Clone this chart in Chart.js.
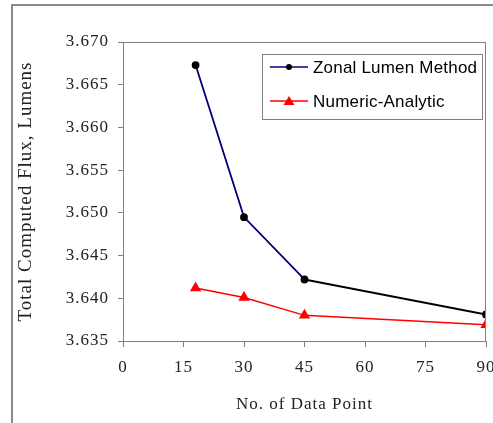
<!DOCTYPE html>
<html><head><meta charset="utf-8">
<script src="https://cdn.jsdelivr.net/npm/chart.js@4"></script>
<style>
html,body{margin:0;padding:0;background:#fff;}
#wrap{position:relative;width:493px;height:423px;}
</style></head>
<body><div id="wrap"><canvas id="c" width="493" height="423"></canvas></div>
<script>
const dataPoints = [18, 30, 45, 90];
const zonalLumen = [3.6673, 3.6495, 3.6422, 3.6381];
const numericAnalytic = [3.6412, 3.6401, 3.6380, 3.6369];
const xTicks = [0, 15, 30, 45, 60, 75, 90];
const yTicks = [3.635, 3.640, 3.645, 3.650, 3.655, 3.660, 3.665, 3.670];
const seriesNames = ['Zonal Lumen Method', 'Numeric-Analytic'];

const serif = '"Liberation Serif", "Times New Roman", serif';
const sans = '"Liberation Sans", Arial, sans-serif';
const gray = '#808080';

const framePlugin = {
  id: 'frame',
  beforeDraw(chart) {
    const c = chart.ctx;
    c.fillStyle = '#fff';
    c.fillRect(0, 0, chart.width, chart.height);
    c.save();
    c.strokeStyle = '#8a8a8a';
    c.lineWidth = 2;
    c.beginPath();
    c.moveTo(12, chart.height);
    c.lineTo(12, 5);
    c.lineTo(chart.width, 5);
    c.stroke();
    c.restore();
    if ('letterSpacing' in c) c.letterSpacing = '1px';
  },
  beforeDatasetsDraw(chart) {
    const c = chart.ctx;
    if ('letterSpacing' in c) c.letterSpacing = '0px';
  },
  afterDraw(chart) {
    const c = chart.ctx, a = chart.chartArea;
    c.save();
    if ('letterSpacing' in c) c.letterSpacing = '0.2px';
    c.strokeStyle = gray;
    c.lineWidth = 1;
    c.strokeRect(a.left + 0.5, a.top + 0.5, a.right - a.left - 1, a.bottom - a.top);
    // legend box
    const bx = 262.5, by = 54.5, bw = 220, bh = 65;
    c.fillStyle = '#fff';
    c.fillRect(bx, by, bw, bh);
    c.strokeRect(bx, by, bw, bh);
    const rows = [67, 101];
    chart.data.datasets.forEach((ds, i) => {
      const y = rows[i];
      c.strokeStyle = ds.borderColor;
      c.lineWidth = 1.5;
      c.beginPath(); c.moveTo(270, y); c.lineTo(308, y); c.stroke();
      c.fillStyle = ds.pointBackgroundColor;
      if (ds.pointStyle === 'triangle') {
        c.beginPath(); c.moveTo(289, y - 5); c.lineTo(294.5, y + 4); c.lineTo(283.5, y + 4); c.closePath(); c.fill();
      } else {
        c.beginPath(); c.arc(289, y, 3, 0, Math.PI * 2); c.fill();
      }
      c.fillStyle = '#000';
      c.font = '17px ' + sans;
      c.textBaseline = 'middle';
      c.textAlign = 'left';
      c.fillText(ds.label, 313, y + 1);
    });
    c.restore();
  }
};

new Chart(document.getElementById('c'), {
  type: 'line',
  data: {
    datasets: [
      {
        label: seriesNames[0],
        data: dataPoints.map((x, i) => ({x, y: zonalLumen[i]})),
        borderColor: '#000080',
        borderWidth: 1.8,
        pointStyle: 'circle',
        pointRadius: 3,
        pointBackgroundColor: '#000',
        pointBorderColor: '#000',
        segment: { borderColor: ctx => ctx.p0DataIndex >= 2 ? '#000' : '#000080' },
        tension: 0
      },
      {
        label: seriesNames[1],
        data: dataPoints.map((x, i) => ({x, y: numericAnalytic[i]})),
        borderColor: '#ff0000',
        borderWidth: 1.5,
        pointStyle: 'triangle',
        pointRadius: 5,
        pointBackgroundColor: '#ff0000',
        pointBorderColor: '#ff0000',
        tension: 0
      }
    ]
  },
  options: {
    responsive: false,
    animation: false,
    devicePixelRatio: 1,
    layout: { padding: { top: 42, right: 7, bottom: 0, left: 0 } },
    plugins: { legend: { display: false }, tooltip: { enabled: false } },
    scales: {
      x: {
        type: 'linear',
        min: 0, max: 90,
        afterBuildTicks: s => { s.ticks = xTicks.map(v => ({value: v})); },
        afterFit: s => { s.height = 82; s.paddingLeft = 0; s.paddingRight = 0; },
        ticks: { color: '#222', font: { family: serif, size: 17 }, padding: 10, maxRotation: 0, autoSkip: false },
        grid: { drawOnChartArea: false, drawTicks: true, tickLength: 6, color: gray },
        border: { display: true, color: gray },
        title: { display: true, text: 'No. of Data Point', color: '#222', font: { family: serif, size: 17 }, padding: { top: 0, bottom: 8 } }
      },
      y: {
        type: 'linear',
        min: 3.635, max: 3.670,
        afterBuildTicks: s => { s.ticks = yTicks.map(v => ({value: v})); },
        afterFit: s => { s.width = 123; },
        ticks: { color: '#222', font: { family: serif, size: 17 }, padding: 9, callback: v => v.toFixed(3) },
        grid: { drawOnChartArea: false, drawTicks: true, tickLength: 5, color: gray },
        border: { display: true, color: gray },
        title: { display: true, text: 'Total Computed Flux, Lumens', color: '#222', font: { family: serif, size: 19 }, padding: { top: 15, bottom: 0 } }
      }
    }
  },
  plugins: [framePlugin]
});
</script></body></html>
